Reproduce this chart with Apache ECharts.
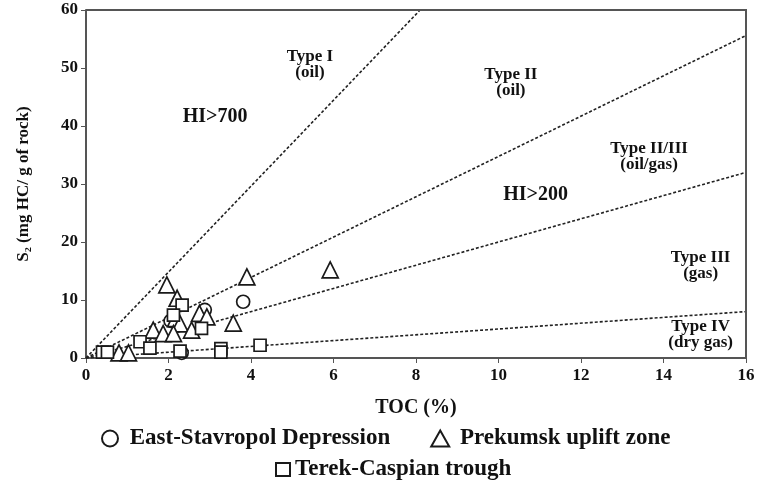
<!DOCTYPE html>
<html><head><meta charset="utf-8">
<script src="https://cdn.jsdelivr.net/npm/echarts@6/dist/echarts.min.js"></script>
<style>html,body{margin:0;padding:0;background:#fff}#c{width:761px;height:482px}</style>
</head><body><div id="c"></div>
<script>
const xTicks = [0, 2, 4, 6, 8, 10, 12, 14, 16];
const yTicks = [0, 10, 20, 30, 40, 50, 60];
const eastStavropol = [[3.81, 9.7], [2.88, 8.3], [2.05, 6.4], [2.32, 0.9]];
const prekumsk = [[1.96, 12.6], [2.21, 10.3], [3.9, 14.0], [5.92, 15.2], [2.75, 7.7], [2.93, 7.1],
  [2.17, 6.8], [2.28, 5.9], [3.57, 6.0], [1.63, 4.8], [1.87, 4.2], [2.12, 4.2], [2.56, 4.8],
  [0.8, 0.9], [1.03, 0.9]];
const terekCaspian = [[2.33, 9.1], [2.12, 7.4], [2.8, 5.1], [1.31, 2.8], [1.55, 1.7], [2.28, 1.2],
  [3.27, 1.6], [3.27, 1.0], [4.22, 2.2], [0.4, 1.0], [0.52, 1.0]];
const typeLines = {
  'Type I': [[0, 0], [8.1, 60]],
  'Type II': [[0, 0], [16, 55.6]],
  'Type II/III': [[0, 0], [16, 32]],
  'Type IV': [[0, 0], [16, 8]]
};
const annotations = [
  {text: 'Type I\n(oil)', x: 5.43, y: 50.6, size: 17},
  {text: 'HI>700', x: 3.13, y: 41.6, size: 20},
  {text: 'Type II\n(oil)', x: 10.3, y: 47.5, size: 17},
  {text: 'Type II/III\n(oil/gas)', x: 13.65, y: 34.7, size: 17},
  {text: 'HI>200', x: 10.9, y: 28.1, size: 20},
  {text: 'Type III\n(gas)', x: 14.9, y: 16.0, size: 17},
  {text: 'Type IV\n(dry gas)', x: 14.9, y: 4.1, size: 17}
];
const seriesNames = ['East-Stavropol Depression', 'Prekumsk uplift zone', 'Terek-Caspian trough'];

const font = 'Liberation Serif';
const hollow = {color: '#fff', borderColor: '#1a1a1a', borderWidth: 1.7, opacity: 1};
const chart = echarts.init(document.getElementById('c'));
const series = [];
Object.keys(typeLines).forEach(k => {
  series.push({type: 'line', name: k, data: typeLines[k], symbol: 'none', silent: true,
    lineStyle: {color: '#222', width: 1.6, type: [3, 2]}, z: 1});
});
series.push({type: 'scatter', name: seriesNames[0], data: eastStavropol, symbol: 'circle', symbolSize: 13, itemStyle: hollow, z: 3});
series.push({type: 'scatter', name: seriesNames[1], data: prekumsk, symbol: 'triangle', symbolSize: 16, itemStyle: hollow, z: 3});
series.push({type: 'scatter', name: seriesNames[2], data: terekCaspian, symbol: 'rect', symbolSize: 12, itemStyle: hollow, z: 3});
series.push({type: 'scatter', name: 'ann',
  data: annotations.map(a => ({value: [a.x, a.y], label: {formatter: a.text, fontSize: a.size, lineHeight: 16}})),
  symbolSize: 0, silent: true, z: 4, itemStyle: {opacity: 1},
  label: {show: true, position: 'inside', color: '#111', fontFamily: font, fontWeight: 'bold', fontSize: 17, align: 'center'}});

chart.setOption({
  animation: false,
  grid: {left: 86, right: 15, top: 10, bottom: 124},
  xAxis: {type: 'value', min: 0, max: 16, interval: 2,
    name: 'TOC (%)', nameLocation: 'middle', nameGap: 40,
    nameTextStyle: {fontFamily: font, fontWeight: 'bold', fontSize: 20, color: '#111'},
    axisLine: {show: true, lineStyle: {color: '#555', width: 2}},
    axisTick: {show: true, lineStyle: {color: '#555'}},
    axisLabel: {fontFamily: font, fontWeight: 'bold', fontSize: 17, color: '#111', margin: 9,
      formatter: v => xTicks.includes(v) ? String(v) : ''},
    splitLine: {show: false}},
  yAxis: {type: 'value', min: 0, max: 60, interval: 10,
    name: 'S\u2082 (mg HC/ g of rock)', nameLocation: 'middle', nameGap: 54, nameRotate: 90,
    nameTextStyle: {fontFamily: font, fontWeight: 'bold', fontSize: 17, color: '#111'},
    axisLine: {show: true, lineStyle: {color: '#555', width: 2}},
    axisTick: {show: true, lineStyle: {color: '#555'}},
    axisLabel: {fontFamily: font, fontWeight: 'bold', fontSize: 17, color: '#111', margin: 8,
      formatter: v => yTicks.includes(v) ? String(v) : ''},
    splitLine: {show: false}},
  legend: [
    {data: [seriesNames[0], seriesNames[1]], left: 96, top: 422, itemGap: 40, itemWidth: 18, itemHeight: 16,
      formatter: n => ' ' + n,
      textStyle: {fontFamily: font, fontWeight: 'bold', fontSize: 23, color: '#111'}},
    {data: [seriesNames[2]], left: 270, top: 453, itemWidth: 14, itemHeight: 13,
      textStyle: {fontFamily: font, fontWeight: 'bold', fontSize: 23, color: '#111'}}
  ],
  series: series
});
const tl = chart.convertToPixel({xAxisIndex: 0, yAxisIndex: 0}, [0, 60]);
const br = chart.convertToPixel({xAxisIndex: 0, yAxisIndex: 0}, [16, 0]);
chart.setOption({graphic: [{type: 'polyline', shape: {points: [[tl[0], tl[1]], [br[0], tl[1]], [br[0], br[1]]]},
  style: {stroke: '#555', lineWidth: 2, fill: null}, z: 5}]});
</script></body></html>
